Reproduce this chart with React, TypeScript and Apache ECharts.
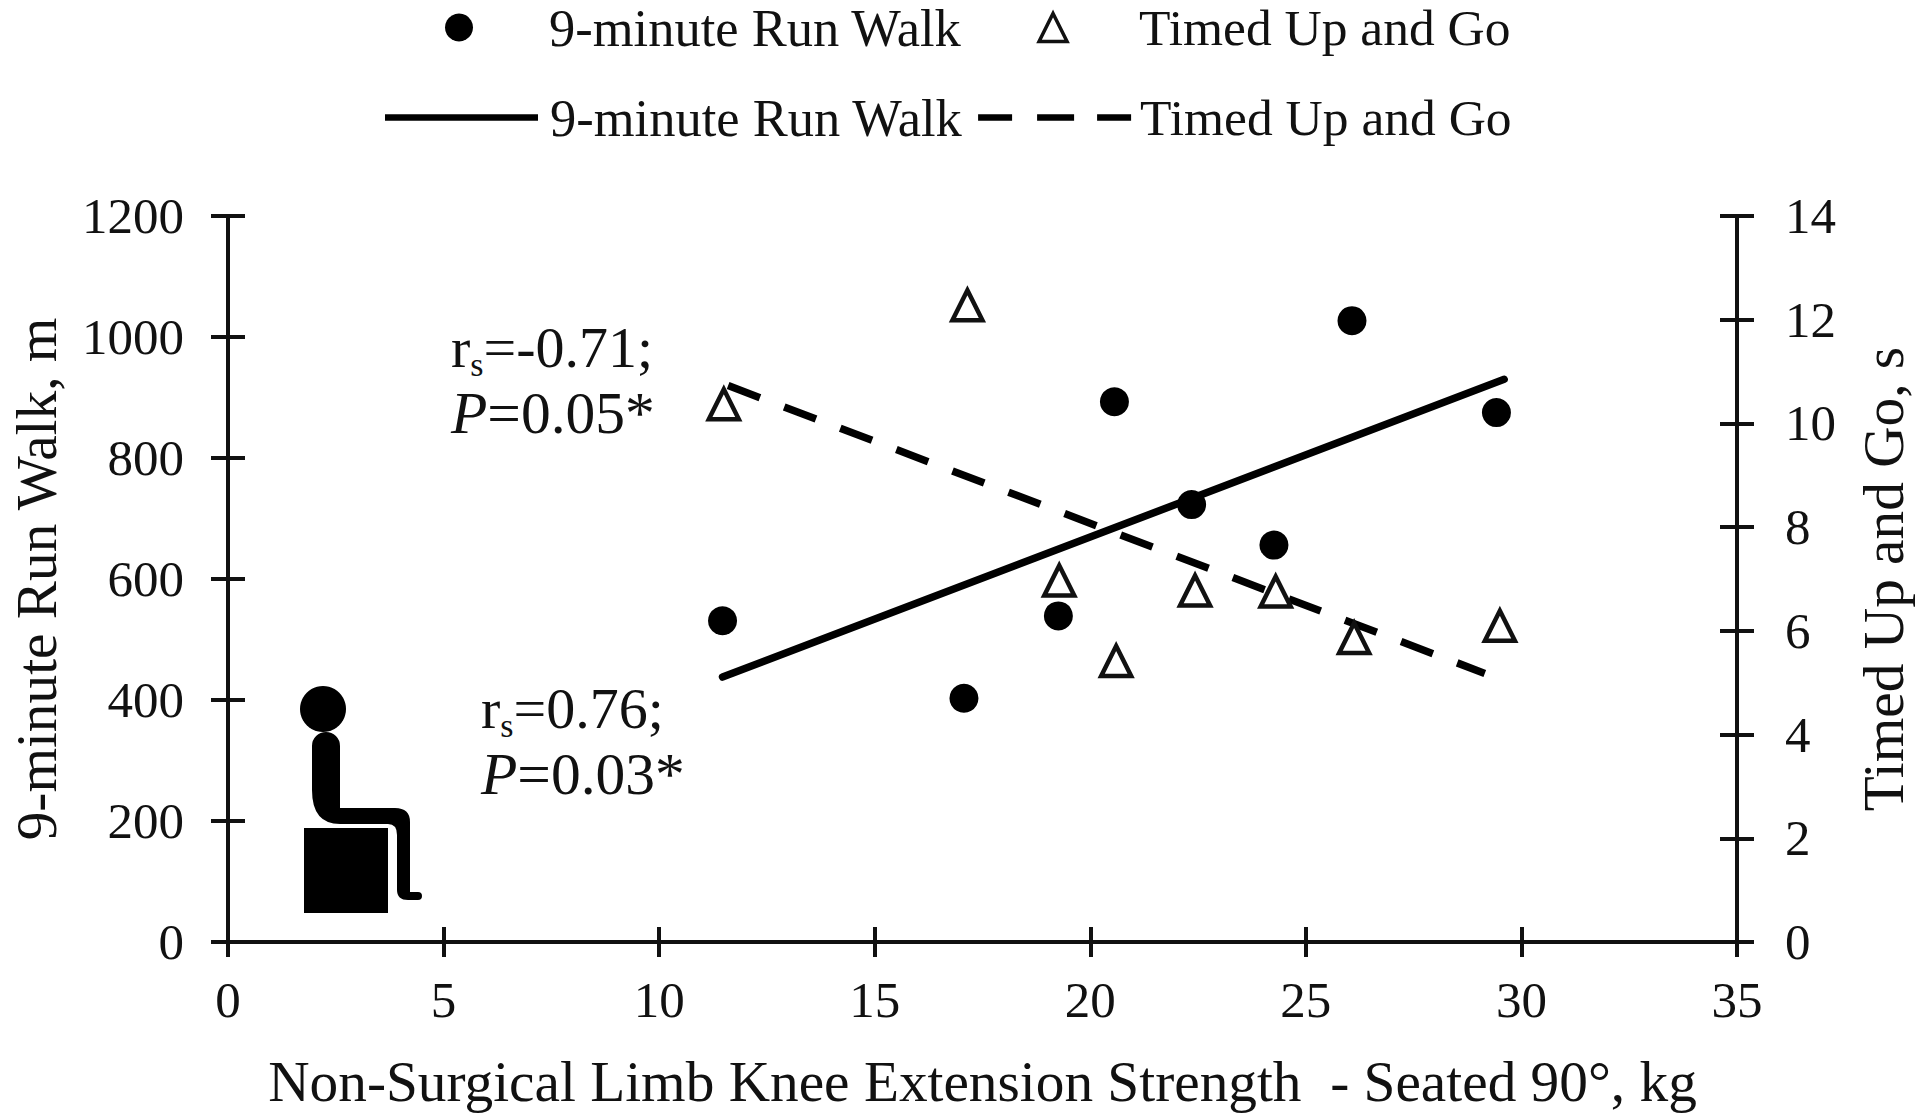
import React, { useEffect, useRef } from "react";
import * as echarts from "echarts";

const runWalkName = "9-minute Run Walk";
const tugName = "Timed Up and Go";
const runWalkFitName = "9-minute Run Walk ";
const tugFitName = "Timed Up and Go ";

const runWalkPoints = [
  [11.47, 531], [17.07, 403], [19.26, 539], [20.56, 893],
  [22.35, 723], [24.26, 656], [26.07, 1027], [29.42, 875],
];
const tugPoints = [
  [11.5, 10.37], [17.15, 12.28], [19.28, 6.97], [20.6, 5.42],
  [22.43, 6.78], [24.3, 6.76], [26.12, 5.86], [29.5, 6.1],
];
const runWalkFit = [[11.47, 438], [29.6, 930]];
const tugFit = [[11.6, 10.73], [29.15, 5.18]];

const xTitle = "Non-Surgical Limb Knee Extension Strength  - Seated 90°, kg";
const leftTitle = "9-minute Run Walk, m";
const rightTitle = "Timed Up and Go, s";

const FONT = '"Liberation Serif", serif';
const INK = "#111111";
const TRIANGLE_ICON = "path://M10 0 L20 20 L0 20 Z";
const DASH_ICON = "path://M0 0H34V6H0Z M59 0H96V6H59Z M119 0H153V6H119Z";
const FIGURE_PATH =
  "M312 746 A14 14 0 0 1 340 746 L340 808 L395 808 Q410 808 410 822 L410 892 L418 892 A4 4 0 0 1 418 900 L408 900 Q397 900 397 890 L397 835 Q397 824 388 824 L340 824 Q312 824 312 790 Z";

echarts.graphic.registerShape("seatedFigure", echarts.graphic.extendPath(FIGURE_PATH, {}) as any);

const noteRich = {
  a: { fontFamily: FONT, fontSize: 58, color: INK },
  b: { fontFamily: FONT, fontSize: 59.5, color: INK },
  i: { fontFamily: FONT, fontSize: 59.5, fontStyle: "italic", color: INK },
  s: { fontFamily: FONT, fontSize: 34, color: INK, padding: [34, 0, 0, 0] },
};

function note(x: number, y: number, text: string) {
  return {
    type: "text",
    x,
    y,
    style: { text, rich: noteRich, fontFamily: FONT, fontSize: 58, fill: INK, verticalAlign: "middle" },
  };
}

const lineStyle = { color: INK, width: 4 };

function App() {
  const ref = useRef<HTMLDivElement>(null);

  useEffect(() => {
    const chart = echarts.init(ref.current!, null, { renderer: "svg" });
    const tickStyle = { color: INK, width: 4 };
    const label = { color: INK, fontFamily: FONT, fontSize: 51, formatter: (v: number) => String(v) };
    const name = { color: INK, fontFamily: FONT, fontSize: 57.3 };
    const legendBase = {
      orient: "horizontal",
      padding: 0,
      selectedMode: false,
      formatter: (n: string) => n.trim(),
    };
    const legendText = (pad: number) => ({
      color: INK,
      fontFamily: FONT,
      fontSize: 52.5,
      padding: [0, 0, 0, pad],
    });
    const tugText = (pad: number) => ({ fontSize: 51.5, padding: [0, 0, 0, pad] });

    chart.setOption({
      animation: false,
      backgroundColor: "#ffffff",
      textStyle: { fontFamily: FONT },
      grid: { left: 228, right: 183, top: 216, height: 726, containLabel: false, outerBoundsMode: "none" },
      legend: [
        {
          ...legendBase,
          left: 445,
          top: 1,
          itemWidth: 150,
          itemHeight: 28,
          itemGap: 75.5,
          symbolKeepAspect: true,
          textStyle: legendText(10),
          data: [
            { name: runWalkName, icon: "circle" },
            {
              name: tugName,
              icon: TRIANGLE_ICON,
              itemStyle: { color: "#ffffff", borderColor: INK, borderWidth: 3.5 },
              textStyle: tugText(6),
            },
          ],
        },
        {
          ...legendBase,
          left: 385,
          top: 91,
          itemWidth: 153,
          itemHeight: 6.5,
          itemGap: 15.3,
          symbolKeepAspect: false,
          textStyle: legendText(7),
          data: [
            { name: runWalkFitName, icon: "rect", itemStyle: { color: "#000000" } },
            { name: tugFitName, icon: DASH_ICON, itemStyle: { color: "#000000" }, textStyle: tugText(4) },
          ],
        },
      ],
      xAxis: [
        {
          type: "value",
          min: 0,
          max: 35,
          interval: 5,
          position: "bottom",
          splitLine: { show: false },
          axisLine: { show: true, onZero: false, lineStyle },
          axisTick: { show: true, length: 15, lineStyle: tickStyle },
          axisLabel: { ...label, margin: 32 },
          name: xTitle,
          nameLocation: "middle",
          nameGap: 111,
          nameTextStyle: name,
        },
        {
          type: "value",
          min: 0,
          max: 35,
          interval: 5,
          position: "bottom",
          splitLine: { show: false },
          axisLine: { show: false, onZero: false },
          axisTick: { show: true, inside: true, length: 15, lineStyle: tickStyle },
          axisLabel: { show: false },
        },
      ],
      yAxis: [
        {
          type: "value",
          min: 0,
          max: 1200,
          interval: 200,
          position: "left",
          splitLine: { show: false },
          axisLine: { show: true, onZero: false, lineStyle },
          axisTick: { show: true, length: 17, lineStyle: tickStyle },
          axisLabel: { ...label, margin: 44 },
          name: leftTitle,
          nameLocation: "middle",
          nameRotate: 90,
          nameGap: 163,
          nameTextStyle: name,
        },
        {
          type: "value",
          min: 0,
          max: 14,
          interval: 2,
          position: "right",
          splitLine: { show: false },
          axisLine: { show: true, onZero: false, lineStyle },
          axisTick: { show: true, length: 17, lineStyle: tickStyle },
          axisLabel: { ...label, margin: 48 },
          name: rightTitle,
          nameLocation: "middle",
          nameRotate: 90,
          nameGap: 118,
          nameTextStyle: name,
        },
        {
          type: "value",
          min: 0,
          max: 1200,
          interval: 200,
          position: "left",
          splitLine: { show: false },
          axisLine: { show: false, onZero: false },
          axisTick: { show: true, inside: true, length: 17, lineStyle: tickStyle },
          axisLabel: { show: false },
        },
        {
          type: "value",
          min: 0,
          max: 14,
          interval: 2,
          position: "right",
          splitLine: { show: false },
          axisLine: { show: false, onZero: false },
          axisTick: { show: true, inside: true, length: 17, lineStyle: tickStyle },
          axisLabel: { show: false },
        },
      ],
      series: [
        {
          name: runWalkName,
          type: "scatter",
          xAxisIndex: 0,
          yAxisIndex: 0,
          data: runWalkPoints,
          symbol: "circle",
          symbolSize: 29,
          itemStyle: { color: "#000000", opacity: 1 },
          z: 3,
        },
        {
          name: tugName,
          type: "scatter",
          xAxisIndex: 0,
          yAxisIndex: 1,
          data: tugPoints,
          symbol: "triangle",
          symbolSize: 30,
          itemStyle: { color: "#ffffff", borderColor: INK, borderWidth: 4.5, opacity: 1 },
          z: 4,
        },
        {
          name: runWalkFitName,
          type: "line",
          xAxisIndex: 0,
          yAxisIndex: 0,
          data: runWalkFit,
          symbol: "none",
          lineStyle: { color: "#000000", width: 7.5, type: "solid", cap: "round" },
          itemStyle: { color: "#000000" },
          z: 2,
        },
        {
          name: tugFitName,
          type: "line",
          xAxisIndex: 0,
          yAxisIndex: 1,
          data: tugFit,
          symbol: "none",
          lineStyle: { color: "#000000", width: 7.5, type: [34, 26], cap: "butt" },
          itemStyle: { color: "#000000" },
          z: 2,
        },
      ],
      graphic: [
        note(451, 347, "{a|r}{s|s}{a|=-0.71;}"),
        note(451, 413, "{i|P}{b|=0.05*}"),
        note(481, 708, "{a|r}{s|s}{a|=0.76;}"),
        note(481, 774, "{i|P}{b|=0.03*}"),
        { type: "circle", shape: { cx: 323, cy: 709, r: 23 }, style: { fill: "#000000" } },
        { type: "seatedFigure", x: 0, y: 0, style: { fill: "#000000" } },
        { type: "rect", shape: { x: 304, y: 828, width: 84, height: 85 }, style: { fill: "#000000" } },
      ],
    });

    return () => chart.dispose();
  }, []);

  return (
    <div
      ref={ref}
      style={{ position: "absolute", left: 0, top: 0, width: 1920, height: 1117, background: "#ffffff" }}
    />
  );
}

export default App;
